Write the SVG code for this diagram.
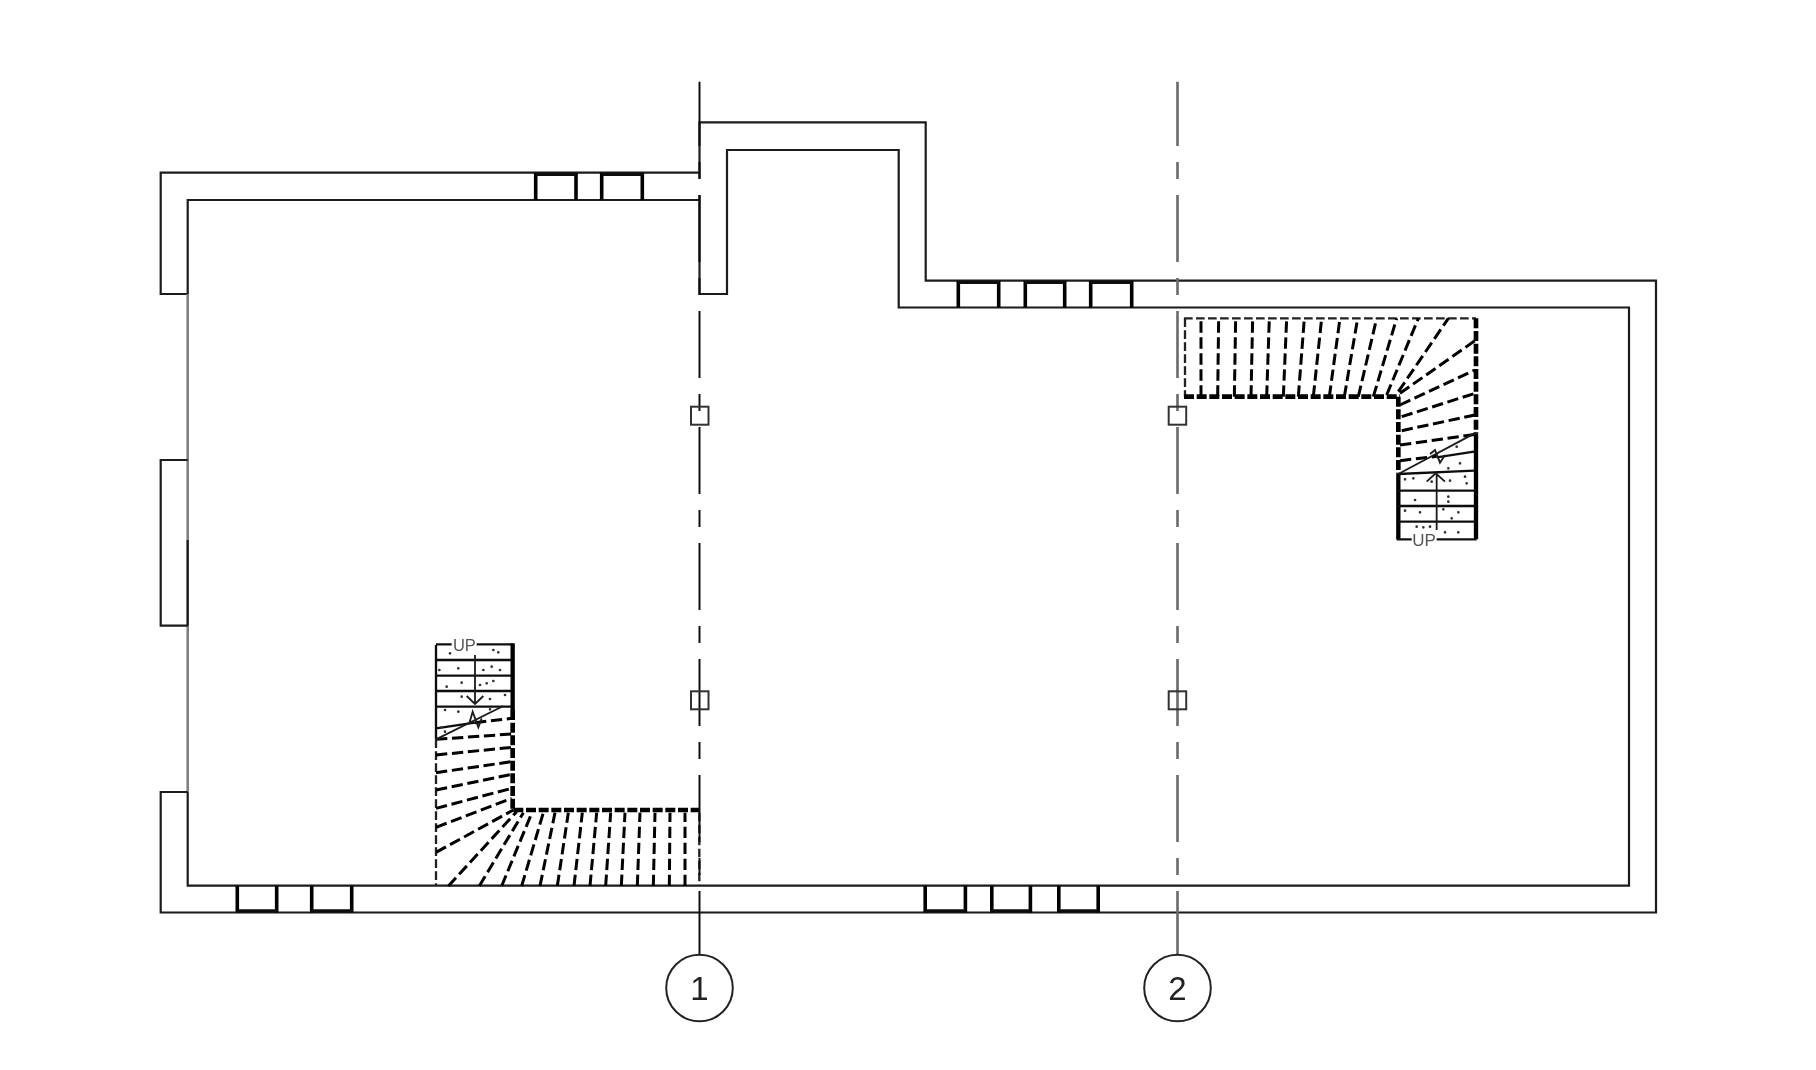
<svg xmlns="http://www.w3.org/2000/svg" width="1816" height="1070" viewBox="0 0 1816 1070">
<style>
.wall{fill:none;stroke:#1c1c1c;stroke-width:2.2;stroke-linejoin:miter}
.soft{fill:none;stroke:#808080;stroke-width:2.6}
.win{fill:none;stroke:#000;stroke-width:3.6}
.winb{fill:none;stroke:#111;stroke-width:3.6}
.ax1{fill:none;stroke:#111;stroke-width:2;stroke-dasharray:67 16 17 16}
.ax2{fill:none;stroke:#6a6a6a;stroke-width:2.6;stroke-dasharray:67 16 17 16}
.col{fill:none;stroke:#333;stroke-width:2}
.bub{fill:#fff;stroke:#222;stroke-width:2}
.num{font-family:"Liberation Sans",Arial,sans-serif;font-size:33px;fill:#222;text-anchor:middle}
.up{font-family:"Liberation Sans",Arial,sans-serif;fill:#555;text-anchor:middle}
.tread{fill:none;stroke:#000;stroke-width:9;stroke-dasharray:34 14}
.edge{fill:none;stroke:#222;stroke-width:7;stroke-dasharray:26 10}
.heavy{fill:none;stroke:#000;stroke-width:14;stroke-dasharray:30 8}
.solid{fill:none;stroke:#111;stroke-width:7}
.thick{fill:none;stroke:#000;stroke-width:13}
.thin{fill:none;stroke:#1c1c1c;stroke-width:5.5}
.dots{fill:none;stroke:#333;stroke-width:8;stroke-linecap:round}
</style>
<defs><filter id="soft" filterUnits="userSpaceOnUse" x="0" y="0" width="1816" height="1070"><feGaussianBlur stdDeviation="0.45"/></filter></defs>
<rect width="1816" height="1070" fill="#fff"/>
<g filter="url(#soft)">
<g id="walls">
<path class="wall" d="M699.5 172.7H160.7V294H187.7"/>
<path class="wall" d="M699.5 200H187.7V294"/>
<path class="soft" d="M187.7 294V792"/>
<path class="wall" d="M187.7 540V625.7"/>
<path class="wall" d="M187.7 460H160.7V625.7H187.7"/>
<path class="wall" d="M699.5 178.7V122.3H925.7V280.7H1656V912.5H160.7V792H187.7"/>
<path class="wall" d="M699.5 195V294H727V150H898.7V307.5H1629V885.7H187.7V792"/>
</g>
<g id="windows">
<path class="win" d="M535.7 172.7V200M576 172.7V200M601.7 172.7V200M642.3 172.7V200"/>
<path class="winb" d="M535.7 174.2H576M601.7 174.2H642.3"/>
<path class="win" d="M958.3 280.7V307.5M998.7 280.7V307.5M1025.3 280.7V307.5M1064.7 280.7V307.5M1090.7 280.7V307.5M1131.7 280.7V307.5"/>
<path class="winb" d="M958.3 282.2H998.7M1025.3 282.2H1064.7M1090.7 282.2H1131.7"/>
<path class="win" d="M237.3 885.7V912.5M276.7 885.7V912.5M311.7 885.7V912.5M351.7 885.7V912.5"/>
<path class="winb" d="M237.3 911H276.7M311.7 911H351.7"/>
<path class="win" d="M925.2 885.7V912.5M965.4 885.7V912.5M991.8 885.7V912.5M1030.4 885.7V912.5M1058.8 885.7V912.5M1098.2 885.7V912.5"/>
<path class="winb" d="M925.2 911H965.4M991.8 911H1030.4M1058.8 911H1098.2"/>
</g>
<g id="stair-1" transform="translate(400 620) scale(0.33333)">
<path class="solid" d="M108 120H335M108 167H335M108 213H335M108 260H335M108 358L108 75M108 73H155M230 73H340M108 325L225 308"/>
<path class="thick" d="M338 70V270"/>
<path class="heavy" d="M338 270V570M340 570H898"/>
<path class="edge" d="M108 358V798M898 578V798"/>
<path class="tread" d="M225 308L335 295M108 358L335 342M108 405L335 382M108 458L335 425M108 510L335 463M108 565L335 505M108 622L335 535M108 697L340 570M145 798L350 575M238 798L370 578M305 798L395 580M365 798L430 578M420 798L465 578M472 798L505 578M522 798L547 578M570 798L590 578M617 798L632 578M664 798L675 578M712 798L720 578M760 798L765 578M808 798L810 578M855 798L855 578"/>
<path class="thin" d="M108 358L310 258M225 105V250M200 228L225 252L250 228M208 310L218 275L235 322L245 295"/>
<path class="dots" d="M150 100h.1M280 90h.1M295 97h.1M175 145h.1M250 150h.1M275 140h.1M118 150h.1M300 150h.1M185 188h.1M260 190h.1M280 183h.1M140 200h.1M240 195h.1M185 230h.1M270 237h.1M315 225h.1M135 270h.1M175 275h.1M270 268h.1M125 322h.1M135 335h.1"/>
<text class="up" x="193" y="94" style="font-size:49.5px">UP</text>
</g>
<g id="stair-2" transform="translate(1170 300) scale(0.33333)">
<path class="edge" d="M42 55H918M45 55V290"/>
<path class="heavy" d="M42 290H690M685 290V520M918 55V400"/>
<path class="thick" d="M918 400V718M685 520V718"/>
<path class="solid" d="M680 718H725M800 718H920M685 572H918M685 618H918M685 665H918M685 522L912 512M800 472L912 455"/>
<path class="tread" d="M690 482L800 469M690 435L918 403M695 392L915 345M695 350L915 280M690 315L915 210M690 280L915 122M685 275L835 55M650 285L745 55M610 290L680 55M565 290L620 55M523 290L563 55M478 290L510 55M430 290L455 55M385 290L403 55M340 290L350 55M290 290L298 55M243 290L248 55M193 290L197 55M143 290L146 55M93 290L93 55"/>
<path class="thin" d="M685 522L918 398M800 690V520M770 545L797 520L825 545M780 462L795 450L810 488L825 465"/>
<path class="dots" d="M705 538h.1M730 535h.1M785 545h.1M840 542h.1M885 530h.1M890 550h.1M870 490h.1M860 440h.1M835 505h.1M735 600h.1M835 590h.1M835 605h.1M705 632h.1M750 637h.1M820 628h.1M865 637h.1M845 655h.1M740 680h.1M760 682h.1M780 680h.1M825 697h.1M865 697h.1"/>
<text class="up" x="762" y="738" style="font-size:51px">UP</text>
</g>
<g id="grid-1">
<line class="ax1" x1="699.5" y1="81.7" x2="699.5" y2="955" style="stroke-dashoffset:2.7"/>
<rect class="col" x="691" y="406.7" width="17.5" height="18"/>
<rect class="col" x="691" y="691.3" width="17.5" height="18"/>
<circle class="bub" cx="699.5" cy="988" r="33.3"/>
<text class="num" x="699.5" y="999.5">1</text>
</g>
<g id="grid-2">
<line class="ax2" x1="1177.5" y1="81.7" x2="1177.5" y2="955" style="stroke-dashoffset:2.7"/>
<rect class="col" x="1168.7" y="406.7" width="17.5" height="18"/>
<rect class="col" x="1168.7" y="691.3" width="17.5" height="18"/>
<circle class="bub" cx="1177.5" cy="988" r="33.3"/>
<text class="num" x="1177.5" y="999.5">2</text>
</g>
</g>
</svg>
